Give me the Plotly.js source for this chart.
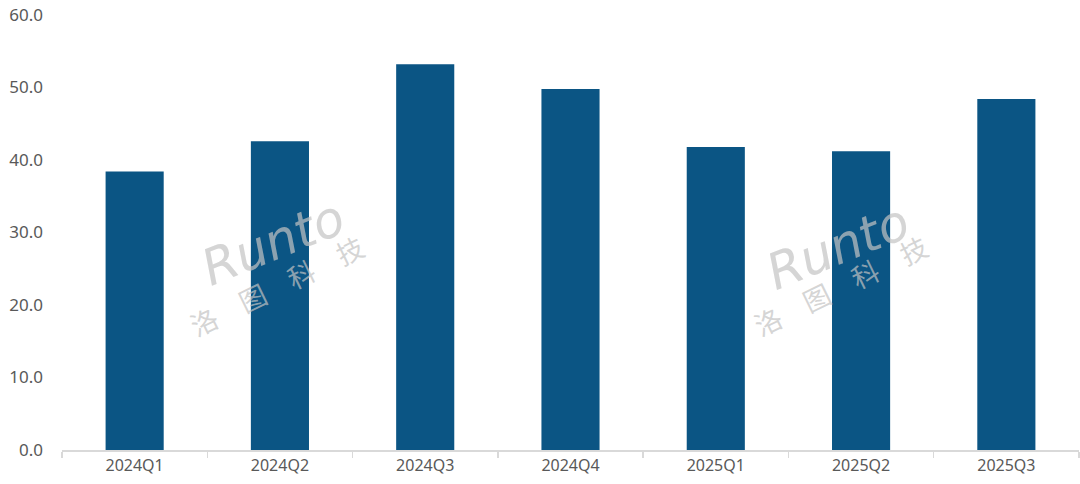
<!DOCTYPE html>
<html>
<head>
<meta charset="utf-8">
<script src="https://cdn.plot.ly/plotly-3.0.1.min.js"></script>
<style>html,body{margin:0;padding:0;background:#fff;}#chart{width:1080px;height:484px;}</style>
</head>
<body>
<div id="chart"></div>
<script>
const categories = ["2024Q1","2024Q2","2024Q3","2024Q4","2025Q1","2025Q2","2025Q3"];
const values = [38.4, 42.6, 53.2, 49.8, 41.8, 41.2, 48.4];
const yTicks = [0, 10, 20, 30, 40, 50, 60];

const wm = [];
[[0.207, 0.476, 0.211, 0.379], [0.763, 0.466, 0.765, 0.379]].forEach(function(p){
  wm.push({xref:"paper", yref:"paper", x:p[0], y:p[1], xanchor:"center", yanchor:"middle",
    text:"<i>Runto</i>", showarrow:false,
    textangle:-22, font:{family:"DejaVu Sans", size:50, color:"rgba(195,195,195,0.7)"}});
  wm.push({xref:"paper", yref:"paper", x:p[2], y:p[3], xanchor:"center", yanchor:"middle",
    text:"洛\u2003图\u2003科\u2003技", showarrow:false,
    textangle:-26, font:{family:"Noto Sans CJK SC", size:27, color:"rgba(195,195,195,0.7)"}});
});

Plotly.newPlot("chart", [{
  type:"bar", x:categories, y:values,
  marker:{color:"#0b5584"}, hoverinfo:"x+y"
}], {
  width:1080, height:484,
  margin:{l:62, r:1, t:15, b:34},
  paper_bgcolor:"#fff", plot_bgcolor:"rgba(0,0,0,0)",
  bargap:0.6,
  showlegend:false,
  font:{family:"Noto Sans, DejaVu Sans, sans-serif", size:16, color:"#595959"},
  xaxis:{type:"category", showline:true, linecolor:"#d9d9d9", linewidth:1.5,
    ticks:"outside", tickson:"boundaries", ticklen:6, tickcolor:"#d9d9d9", tickwidth:1.5,
    showgrid:false, zeroline:false, tickfont:{size:16, color:"#595959"}},
  yaxis:{range:[0,60], tickvals:yTicks, tickformat:".1f", showgrid:false, zeroline:false,
    showline:false, ticks:"", ticklabelstandoff:18, tickfont:{size:17, color:"#595959"}},
  annotations: wm
}, {staticPlot:true});
</script>
</body>
</html>
